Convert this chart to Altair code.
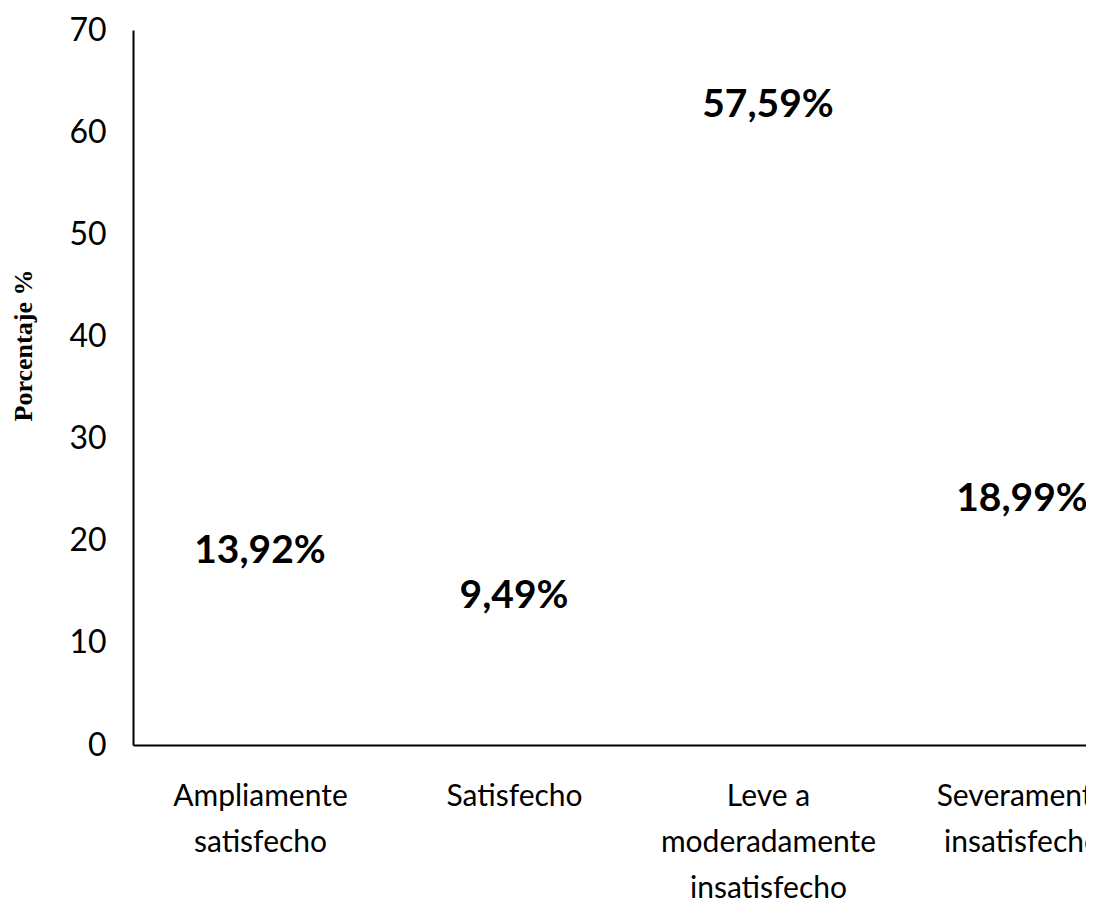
import altair as alt
import pandas as pd

categories = [
    "Ampliamente|satisfecho",
    "Satisfecho",
    "Leve a|moderadamente|insatisfecho",
    "Severamente|insatisfecho",
]
values = [13.92, 9.49, 57.59, 18.99]
labels = ["13,92%", "9,49%", "57,59%", "18,99%"]
y_ticks = [0, 10, 20, 30, 40, 50, 60, 70]

df = pd.DataFrame({"cat": categories, "val": values, "lab": labels})

x_enc = alt.X(
    "cat:N",
    sort=categories,
    scale=alt.Scale(type="point", padding=0.5, range=[0, 1016]),
    axis=alt.Axis(
        title=None,
        labelAngle=0,
        labelExpr="split(datum.label, '|')",
        labelFont="Lato",
        labelFontSize=30,
        labelLineHeight=46,
        labelColor="black",
        labelPadding=36,
        ticks=False,
        domainColor="black",
        domainWidth=2,
        grid=False,
        labelLimit=400,
        labelOverlap=False,
        labelBound=False,
        labelFlush=False,
    ),
)

y_enc = alt.Y(
    "val:Q",
    scale=alt.Scale(domain=[0, 70], nice=False),
    axis=alt.Axis(
        title="Porcentaje %",
        titleFont="Liberation Serif",
        titleFontSize=26,
        titleFontWeight="bold",
        titleColor="black",
        titleAngle=-90,
        titleX=-110,
        titleY=315,
        titleAlign="center",
        titleBaseline="middle",
        values=y_ticks,
        labelFont="Lato",
        labelFontSize=32,
        labelColor="black",
        labelPadding=27,
        ticks=False,
        domainColor="black",
        domainWidth=2,
        grid=False,
    ),
)

chart = (
    alt.Chart(df)
    .mark_text(font="Lato", fontSize=39, fontWeight="bold", color="black",
               dy=-52, baseline="middle")
    .encode(x=x_enc, y=y_enc, text="lab:N")
    .properties(
        width=953,
        height=715,
        autosize=alt.AutoSizeParams(type="none"),
        padding={"left": 125, "top": 22, "right": 0, "bottom": 165},
        view=alt.ViewBackground(stroke="white", strokeWidth=0, fill="white"),
    )
    .configure_view(stroke="white", strokeWidth=0)
    .configure_axis(grid=False)
    .configure(background="white")
)

chart.save("out.html", embed_options={"renderer": "svg", "actions": False})
